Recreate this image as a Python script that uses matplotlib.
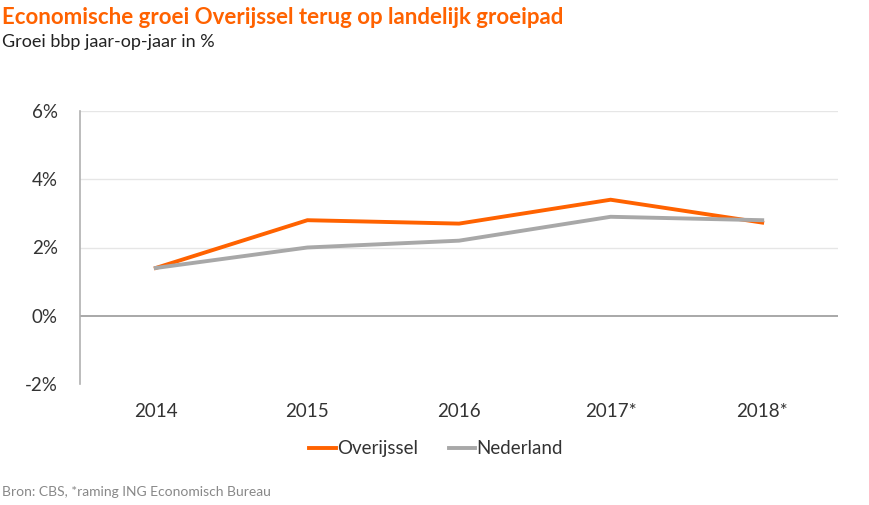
import matplotlib.pyplot as plt
import matplotlib.ticker as mticker

years = ['2014', '2015', '2016', '2017*', '2018*']
overijssel = [1.4, 2.8, 2.7, 3.4, 2.73]
nederland = [1.4, 2.0, 2.2, 2.9, 2.8]

orange = '#ff6200'
grey = '#a8a8a8'
plt.rcParams['font.family'] = ['Lato', 'DejaVu Sans']

fig = plt.figure(figsize=(8.7, 5.05), dpi=100)
ax = fig.add_axes([80 / 870, 1 - 384 / 505, 758 / 870, (384 - 111) / 505])

x = range(len(years))
ax.plot(x, overijssel, color=orange, lw=2.8, label='Overijssel', solid_joinstyle='miter')
ax.plot(x, nederland, color=grey, lw=2.8, label='Nederland', solid_joinstyle='miter')

ax.set_xlim(-0.5, len(years) - 0.5)
ax.set_ylim(-2, 6)
ax.set_yticks([-2, 0, 2, 4, 6])
ax.yaxis.set_major_formatter(mticker.FuncFormatter(lambda v, p: f'{v:.0f}%'))
ax.set_xticks(list(x))
ax.set_xticklabels(years)
for v in [2, 4, 6]:
    ax.axhline(v, color='#e6e6e6', lw=1, zorder=0)
ax.axhline(0, color='#9a9a9a', lw=1.2, zorder=1)

for s in ['top', 'right', 'bottom']:
    ax.spines[s].set_visible(False)
ax.spines['left'].set_color('#b0b0b0')
ax.spines['left'].set_linewidth(1.2)
ax.tick_params(length=0, labelsize=13.5, colors='#333333')
ax.tick_params(axis='y', pad=16)
ax.tick_params(axis='x', pad=14)

ax.legend(loc='upper center', bbox_to_anchor=(0.47, -0.145), ncol=2, frameon=False,
          fontsize=13.5, handlelength=1.4, handletextpad=0.1, columnspacing=1.6,
          labelcolor='#333333')

fig.text(2 / 870, 1 - 17 / 505, 'Economische groei Overijssel terug op landelijk groeipad',
         color=orange, fontsize=16, fontweight='bold', va='center', ha='left')
fig.text(2 / 870, 1 - 42 / 505, 'Groei bbp jaar-op-jaar in %',
         color='#222222', fontsize=13, va='center', ha='left')
fig.text(2 / 870, 1 - 492 / 505, 'Bron: CBS, *raming ING Economisch Bureau',
         color='#888888', fontsize=10, va='center', ha='left')

fig.savefig('out.png', dpi=100)
